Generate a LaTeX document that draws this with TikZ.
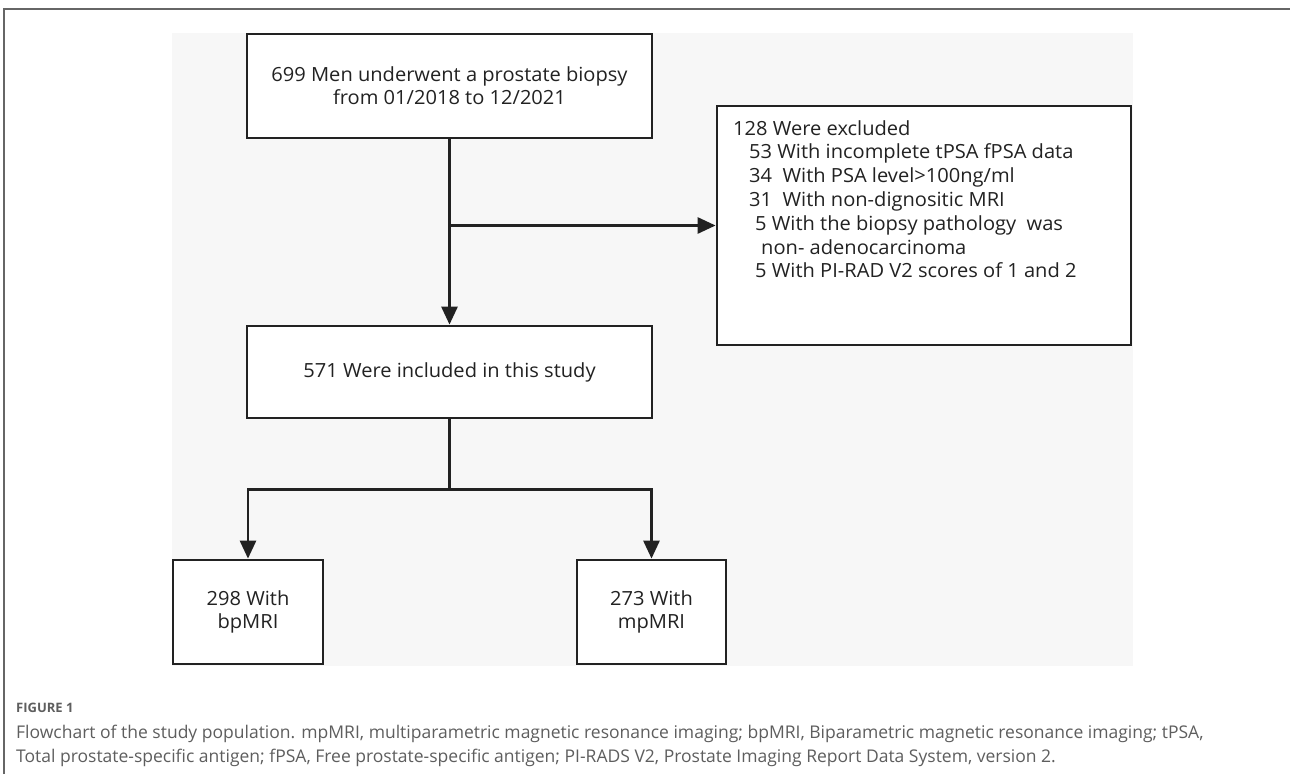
\documentclass[tikz,border=0pt]{standalone}
\usepackage{fontspec}
\setmainfont{Open Sans}
\newfontfamily\boxfont[FakeStretch=1.03]{Open Sans}
\usetikzlibrary{arrows.meta}
\definecolor{bgGray}{HTML}{F7F7F7}
\definecolor{lineC}{HTML}{222222}
\definecolor{capC}{HTML}{5E5E5E}
\definecolor{frameC}{HTML}{666666}
\begin{document}
\begin{tikzpicture}[x=1pt,y=-1pt,
  box/.style={draw=lineC, line width=2.8pt, fill=white, rectangle, inner sep=0pt,
    align=center, font=\boxfont\fontsize{19.5}{23}\selectfont, text=lineC},
  conn/.style={draw=lineC, line width=2.8pt},
  arr/.style={conn, -{Triangle[length=18pt,width=16pt]}},
  captxt/.style={anchor=base west, inner sep=0pt, text=capC, font=\fontsize{17.5}{20}\selectfont}]
\useasboundingbox (0,0) rectangle (1290,774);
\fill[white] (0,0) rectangle (1290,774);
\fill[bgGray] (172,33) rectangle (1133,666);
\draw[frameC, line width=1.2pt] (4,774) -- (4,9) -- (1290,9);

\node[box, minimum width=405pt, minimum height=104pt] (top) at (449.5,86)
  {699 Men underwent a prostate biopsy\\from 01/2018 to 12/2021};
\node[box, minimum width=414pt, minimum height=239pt] (excl) at (924,225.5) {};
\node[anchor=north west, align=left, inner sep=0pt, text=lineC,
  font=\boxfont\fontsize{19.5}{23.8}\selectfont] (exclt) at (733,120)
  {128 Were excluded\\
   \hspace*{16pt}53 With incomplete tPSA fPSA data\\
   \hspace*{16pt}34\ \ With PSA level>100ng/ml\\
   \hspace*{16pt}31\ \ With non-dignositic MRI\\
   \hspace*{22pt}5 With the biopsy pathology\ \ was\\
   \hspace*{28pt}non- adenocarcinoma\\
   \hspace*{22pt}5 With PI-RAD V2 scores of 1 and 2};
\node[box, minimum width=405pt, minimum height=92pt] (mid) at (449.5,372)
  {571 Were included in this study};
\node[box, minimum width=150pt, minimum height=104pt] (lb) at (248,612)
  {298 With\\bpMRI};
\node[box, minimum width=149pt, minimum height=104pt] (rb) at (651.5,612)
  {273 With\\mpMRI};

\draw[arr] (top.south) -- (mid.north);
\coordinate (j1) at (top.south |- excl.west);
\draw[arr] (j1) -- (excl.west);
\draw[conn] (mid.south) -- ++(0,70) coordinate (j2);
\draw[arr] (j2) -| (lb.north);
\draw[arr] (j2) -| (rb.north);

\node[captxt, font=\fontsize{13}{15}\selectfont\bfseries] (figlab) at (16,712) {FIGURE 1};
\node[captxt] (cap1) at (16,738) {Flowchart of the study population. mpMRI, multiparametric magnetic resonance imaging; bpMRI, Biparametric magnetic resonance imaging; tPSA,};
\node[captxt] (cap2) at (16,762) {Total prostate-specific antigen; fPSA, Free prostate-specific antigen; PI-RADS V2, Prostate Imaging Report Data System, version 2.};
\end{tikzpicture}
\end{document}
